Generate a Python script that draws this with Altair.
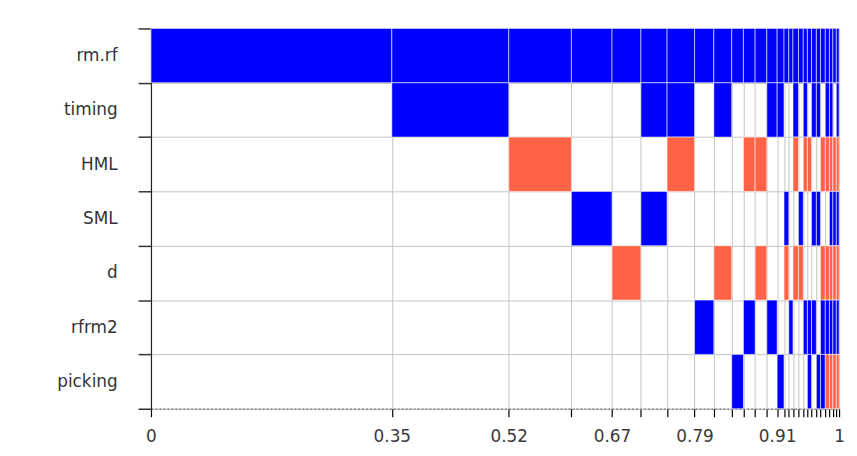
import altair as alt
import pandas as pd

# Variables (rows, top to bottom)
variables = ["rm.rf", "timing", "HML", "SML", "d", "rfrm2", "picking"]

# Cumulative posterior model probabilities (right edge of each model column)
model_end = [0.35, 0.52, 0.611, 0.67, 0.712, 0.75, 0.79, 0.818, 0.844, 0.861,
             0.878, 0.895, 0.91, 0.92, 0.927, 0.933, 0.941, 0.948, 0.954, 0.96,
             0.967, 0.973, 0.98, 0.986, 0.991, 0.996, 1.0]

# Inclusion per model: 1 = positive coefficient, -1 = negative, 0 = excluded
inc_rmrf    = [1] * 27
inc_timing  = [0, 1, 0, 0, 0, 1, 1, 0, 1, 0, 0, 0, 1, 1, 0, 0, 1, 0, 1, 0, 1, 1, 0, 1, 1, 0, 1]
inc_hml     = [0, 0, -1, 0, 0, 0, -1, 0, 0, 0, -1, -1, 0, 0, 0, 0, -1, 0, -1, -1, 0, 0, -1, -1, -1, -1, -1]
inc_sml     = [0, 0, 0, 1, 0, 1, 0, 0, 0, 0, 0, 0, 0, 0, 1, 0, 0, 1, 0, 0, 1, 1, 0, 0, 1, 1, 1]
inc_d       = [0, 0, 0, 0, -1, 0, 0, 0, -1, 0, 0, -1, 0, 0, -1, 0, -1, -1, 0, 0, 0, 0, -1, -1, -1, -1, -1]
inc_rfrm2   = [0, 0, 0, 0, 0, 0, 0, 1, 0, 0, 1, 0, 1, 0, 0, 1, 0, 0, 1, 1, 1, 0, 1, 1, 1, 1, 1]
inc_picking = [0, 0, 0, 0, 0, 0, 0, 0, 0, 1, 0, 0, 0, 1, 0, 0, 0, 0, 0, 1, 0, 1, 1, -1, -1, -1, -1]

inclusion = [inc_rmrf, inc_timing, inc_hml, inc_sml, inc_d, inc_rfrm2, inc_picking]

# Axis labels shown on the x axis
label_values = [0, 0.35, 0.52, 0.67, 0.79, 0.91, 1.0]
tick_labels = ["0", "0.35", "0.52", "0.67", "0.79", "0.91", "1"]

model_start = [0.0] + model_end[:-1]
rows = []
for i, var in enumerate(variables):
    for j, s in enumerate(inclusion[i]):
        if s != 0:
            rows.append({
                "var": var,
                "x0": model_start[j], "x1": model_end[j],
                "y0": i, "y1": i + 1,
                "sign": "pos" if s > 0 else "neg",
            })
df = pd.DataFrame(rows)

x_values = [0.0] + model_end
label_expr = ""
for v, t in zip(label_values, tick_labels):
    label_expr += f"datum.value === {v} ? '{t}' : "
label_expr += "''"

names_js = "[" + ",".join(f"'{v}'" for v in variables) + "]"
y_values = [k / 2 for k in range(2 * len(variables) + 1)]

font = "DejaVu Sans"

chart = alt.Chart(df).mark_rect(stroke="white", strokeWidth=0.7, strokeOpacity=0.8).encode(
    x=alt.X("x0:Q",
            scale=alt.Scale(domain=[0, 1], nice=False, zero=False),
            axis=alt.Axis(values=x_values, labelExpr=label_expr, labelOverlap=False,
                          labelFlush=False, grid=True, gridColor="#c4c4c4", gridWidth=1,
                          tickColor="black", tickSize=8, tickWidth=1.2,
                          domainColor="#888888", domainDash=[2, 2], domainWidth=1.5,
                          labelFont=font, labelFontSize=17, labelColor="#3a3a3a",
                          labelPadding=12, title=None)),
    x2="x1:Q",
    y=alt.Y("y0:Q",
            scale=alt.Scale(domain=[0, len(variables)], reverse=True, nice=False, zero=False),
            axis=alt.Axis(values=y_values,
                          labelExpr=f"datum.value % 1 === 0.5 ? {names_js}[floor(datum.value)] : ''",
                          labelOverlap=False, labelFlush=False,
                          tickColor={"condition": {"test": "datum.value % 1 === 0", "value": "#333333"},
                                     "value": "transparent"},
                          gridColor={"condition": {"test": "datum.value % 1 === 0", "value": "#c4c4c4"},
                                     "value": "transparent"},
                          grid=True, tickSize=13, tickWidth=1.5,
                          domainColor="#222222", domainWidth=1.2,
                          labelFont=font, labelFontSize=17, labelColor="#333333",
                          labelPadding=21, title=None)),
    y2="y1:Q",
    color=alt.Color("sign:N",
                    scale=alt.Scale(domain=["pos", "neg"], range=["#0000FF", "#FF6347"]),
                    legend=None),
).properties(
    width=693, height=383,
    autosize=alt.AutoSizeParams(type="none"),
    padding={"left": 144, "top": 19, "right": 10, "bottom": 46},
).configure_view(stroke=None).configure(background="white")

chart.save("out.html", embed_options={"renderer": "svg", "actions": False})
